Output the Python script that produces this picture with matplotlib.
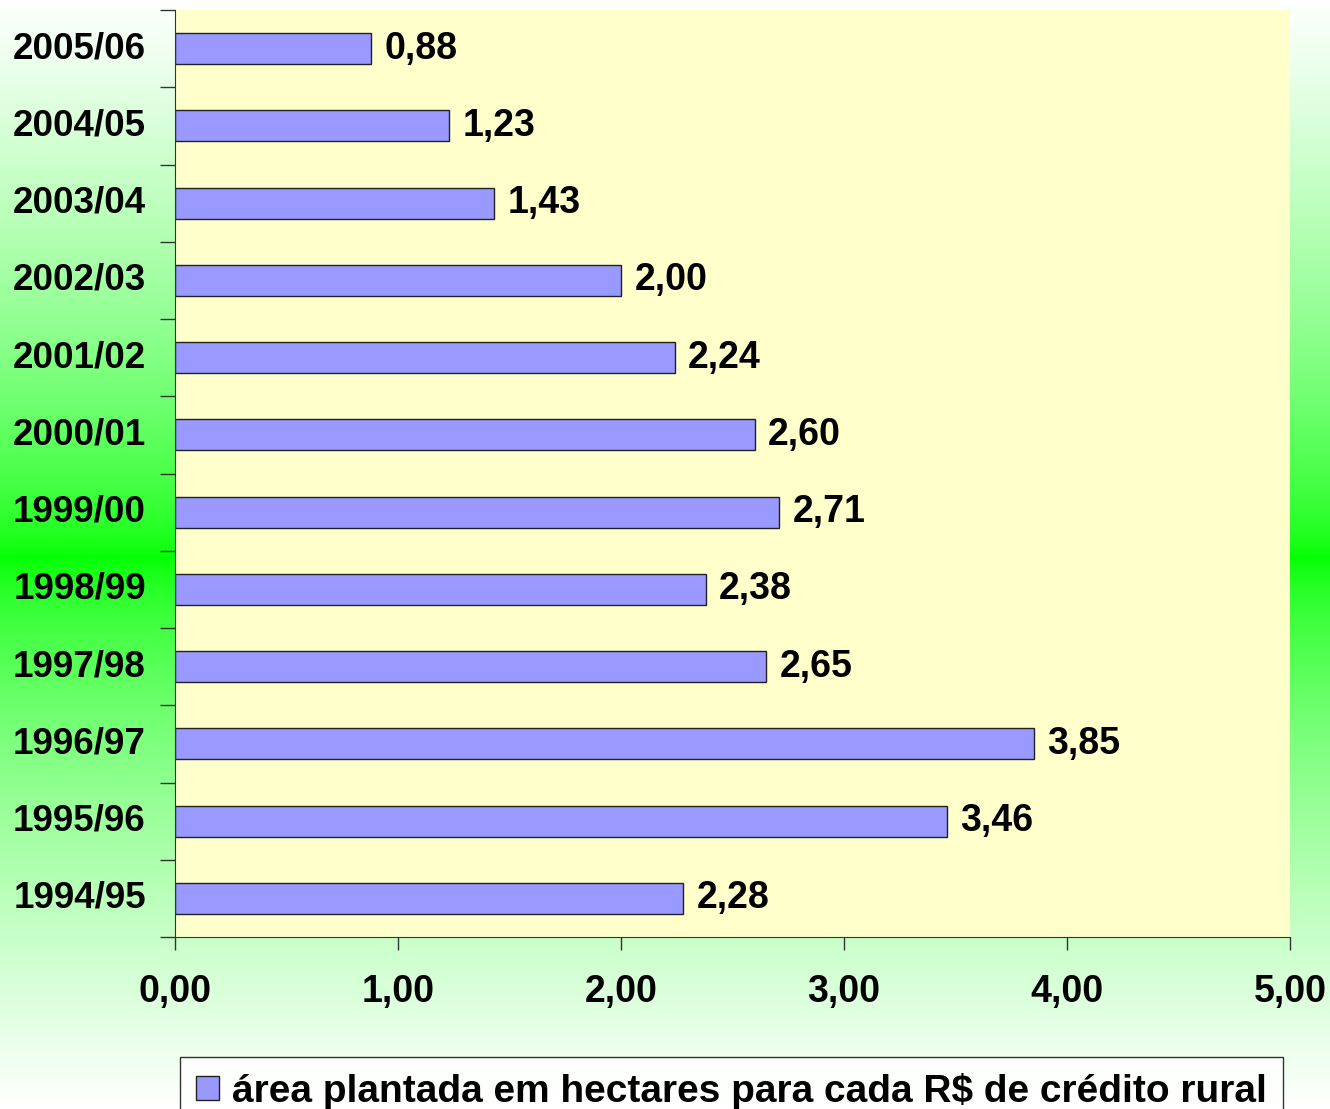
import numpy as np
import matplotlib.pyplot as plt
from matplotlib.patches import Patch

safras = ['1994/95', '1995/96', '1996/97', '1997/98', '1998/99', '1999/00',
          '2000/01', '2001/02', '2002/03', '2003/04', '2004/05', '2005/06']
area_por_real = [2.28, 3.46, 3.85, 2.65, 2.38, 2.71, 2.60, 2.24, 2.00, 1.43, 1.23, 0.88]
x_ticks = [0, 1, 2, 3, 4, 5]
legenda = 'área plantada em hectares para cada R$ de crédito rural'

plt.rcParams['font.family'] = ['Liberation Sans', 'DejaVu Sans']
plt.rcParams['font.weight'] = 'bold'

W, H = 1330, 1109
fig = plt.figure(figsize=(W / 100, H / 100), dpi=100)

# fundo: degradê vertical branco -> verde -> branco
bg = fig.add_axes([0, 0, 1, 1], zorder=-10)
yy = np.linspace(0, 1, H)
center = 558 / H
t = np.where(yy < center, (center - yy) / center, (yy - center) / (1 - center))
w = t ** 0.65
img = np.zeros((H, 1, 3))
img[:, 0, 0] = w
img[:, 0, 1] = 1.0
img[:, 0, 2] = w
bg.imshow(img, aspect='auto', extent=[0, 1, 1, 0])
bg.axis('off')

ax = fig.add_axes([175 / W, 1 - 937 / H, (1290 - 175) / W, (937 - 10) / H])
ax.set_facecolor('#FFFFCC')

pos = np.arange(len(safras))
bars = ax.barh(pos, area_por_real, height=0.4, color='#9999FF',
               edgecolor='#222222', linewidth=1)
for b, v in zip(bars, area_por_real):
    ax.text(b.get_width() + 0.06, b.get_y() + b.get_height() / 2,
            f'{v:.2f}'.replace('.', ','), va='center', ha='left',
            fontsize=27, fontweight='bold')

ax.set_xlim(0, 5)
ax.set_ylim(-0.5, len(safras) - 0.5)
ax.set_xticks(x_ticks)
ax.set_xticklabels([f'{v:.2f}'.replace('.', ',') for v in x_ticks],
                   fontsize=27, fontweight='bold')
ax.set_yticks(pos)
ax.set_yticklabels(safras, fontsize=26.5, fontweight='bold', va='center')
ax.set_yticks(np.arange(-0.5, len(safras), 1), minor=True)
ax.tick_params(axis='y', which='major', length=0, pad=21)
ax.tick_params(axis='y', which='minor', length=11, width=1, color='#333333')
ax.tick_params(axis='x', length=9, width=1, color='#333333', pad=18)
for s in ['top', 'right']:
    ax.spines[s].set_visible(False)
for s in ['left', 'bottom']:
    ax.spines[s].set_color('#333333')

handle = Patch(facecolor='#9999FF', edgecolor='#222222', linewidth=1)
leg = fig.legend([handle], [legenda], loc='upper left',
                 bbox_to_anchor=(180 / W, 1 - 1057 / H),
                 prop={'weight': 'bold', 'size': 28},
                 frameon=True, fancybox=False, edgecolor='black',
                 handlelength=0.6, handleheight=0.6, handletextpad=0.35,
                 borderpad=0.4, borderaxespad=0)
leg.get_frame().set_facecolor('white')
leg.get_frame().set_linewidth(1)

fig.savefig('out.png', dpi=100)
